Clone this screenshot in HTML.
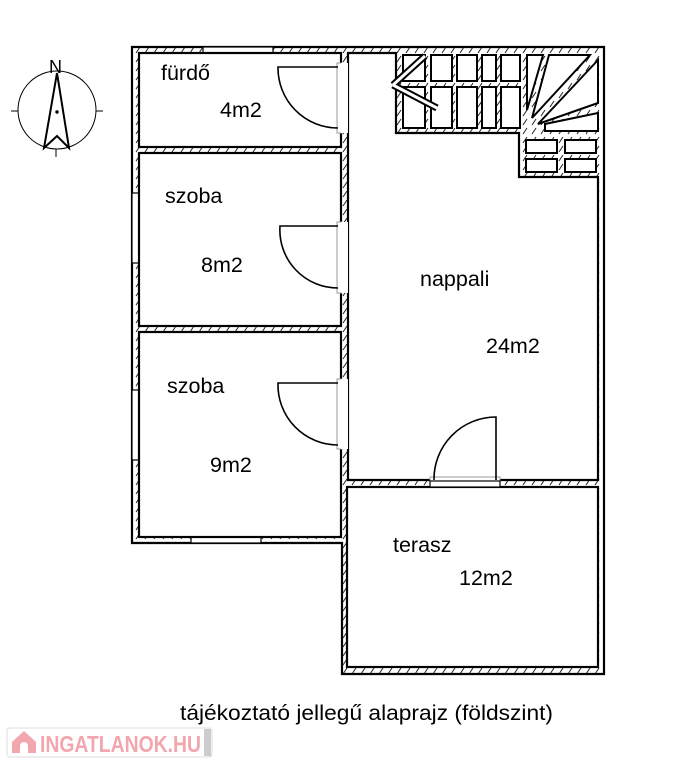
<!DOCTYPE html>
<html><head><meta charset="utf-8"><style>
html,body{margin:0;padding:0;background:#fff;}
svg{display:block;font-family:"Liberation Sans",Arial,sans-serif;}
</style></head><body>
<svg width="700" height="768" viewBox="0 0 700 768" xmlns="http://www.w3.org/2000/svg">
<defs>
<pattern id="h" patternUnits="userSpaceOnUse" width="9" height="9">
<rect width="9" height="9" fill="#fff"/>
<line x1="1" y1="8" x2="5" y2="2" stroke="#222" stroke-width="1"/>
</pattern>
</defs>
<rect width="700" height="768" fill="#fff"/>
<path d="M132,47 H604 V674 H342 V543 H132 Z" fill="url(#h)" stroke="#000" stroke-width="2.2"/>
<g fill="#fff" stroke="#000" stroke-width="1.2">
<rect x="203" y="47" width="70" height="6"/>
<rect x="132" y="193" width="7" height="70"/>
<rect x="132" y="390" width="7" height="70"/>
<rect x="191" y="537" width="70" height="6"/>
</g>
<g fill="#fff" stroke="#000" stroke-width="2.2">
<rect x="139" y="53" width="202" height="94"/>
<rect x="139" y="153" width="202" height="173"/>
<rect x="139" y="332" width="202" height="205"/>
<path d="M348,53 H396 V133 H519 V177 H598 V480 H348 Z"/>
<rect x="347" y="487" width="251" height="180"/>
</g>
<g fill="#fff" stroke="#000" stroke-width="2">
<rect x="403" y="55" width="22" height="26"/><rect x="431" y="55" width="21" height="26"/><rect x="457" y="55" width="20" height="26"/><rect x="482" y="55" width="14" height="26"/><rect x="501" y="55" width="19" height="26"/>
<rect x="403" y="87" width="22" height="41"/><rect x="431" y="87" width="21" height="41"/><rect x="457" y="87" width="20" height="41"/><rect x="482" y="87" width="14" height="41"/><rect x="501" y="87" width="19" height="41"/>
<path d="M527,55 H543 L527,110 Z"/>
<path d="M549,55 H590 L532,118 Z"/>
<path d="M598,60 V103 L538,124 Z"/>
<path d="M545,124 L598,113 V131 H545 Z"/>
<rect x="526" y="140" width="31" height="13"/><rect x="565" y="140" width="31" height="13"/>
<rect x="526" y="159" width="31" height="13"/><rect x="565" y="159" width="31" height="13"/>
</g>
<g stroke-linecap="butt">
<g stroke="#000" stroke-width="7">
<line x1="393" y1="85" x2="425" y2="56"/><line x1="393" y1="85" x2="437" y2="108"/>
</g>
<g stroke="#fff" stroke-width="3">
<line x1="393" y1="85" x2="425" y2="56"/><line x1="393" y1="85" x2="437" y2="108"/>
</g>
</g>
<g fill="#fff" stroke="#999" stroke-width="1">
<rect x="337" y="63" width="5" height="70"/>
<rect x="337" y="222" width="5" height="71"/>
<rect x="337" y="379" width="5" height="70"/>
<rect x="430" y="477" width="70" height="5"/>
</g>
<g fill="#fff" stroke="#000" stroke-width="1.2">
<rect x="341" y="63" width="7" height="70" stroke="none"/>
<rect x="341" y="222" width="7" height="71" stroke="none"/>
<rect x="341" y="379" width="7" height="70" stroke="none"/>
<rect x="430" y="481" width="70" height="6"/>
</g>
<g fill="none" stroke="#000" stroke-width="1.6">
<path d="M338,67 H278 A60,60 0 0 0 338,128"/>
<path d="M338,226 H280 A58,58 0 0 0 338,288"/>
<path d="M338,383 H278 A60,60 0 0 0 338,445"/>
<path d="M496,480 V417 A62,62 0 0 0 434,480"/>
</g>
<g font-size="21.5" fill="#000">
<text x="161" y="80">fürdő</text>
<text x="220" y="117">4m2</text>
<text x="165" y="203">szoba</text>
<text x="201" y="272">8m2</text>
<text x="420" y="286">nappali</text>
<text x="486" y="353">24m2</text>
<text x="167" y="393">szoba</text>
<text x="210" y="472">9m2</text>
<text x="393" y="552">terasz</text>
<text x="459" y="585">12m2</text>
<text x="180" y="720" textLength="373" lengthAdjust="spacingAndGlyphs">tájékoztató jellegű alaprajz (földszint)</text>
</g>
<g stroke="#000" fill="none">
<circle cx="57" cy="110" r="39" stroke-width="1"/>
<line x1="11" y1="111" x2="18" y2="111" stroke-width="1"/>
<line x1="96" y1="111" x2="103" y2="111" stroke-width="1"/>
<line x1="56" y1="149" x2="56" y2="157" stroke-width="1"/>
<path d="M57,73 L44,148 L57,136 L69,148 Z" stroke-width="2"/>
<circle cx="57" cy="112" r="1.2" fill="#000"/>
</g>
<text x="49" y="73" font-size="18" fill="#000">N</text>
<rect x="7" y="728" width="205" height="29" rx="3" fill="#fff" stroke="#ddd" stroke-width="1"/>
<rect x="204" y="729" width="7" height="27" fill="#ccc"/>
<path d="M12,742 L24,731 L36,742 L36,753 L12,753 Z" fill="#f2a6ae"/>
<path d="M20,753 V746 A4,4 0 0 1 28,746 V753 Z" fill="#fff"/>
<text x="40" y="752" font-size="23" font-weight="bold" fill="#f2a6ae" textLength="161" lengthAdjust="spacingAndGlyphs">INGATLANOK.HU</text>
</svg>
</body></html>
